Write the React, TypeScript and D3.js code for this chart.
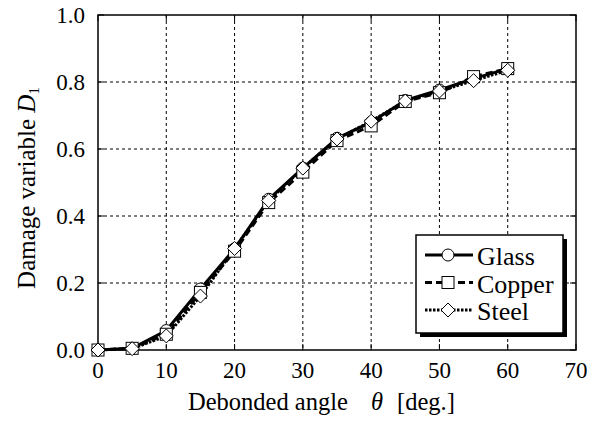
import React from "react";
import * as d3 from "d3";

const angles = [0, 5, 10, 15, 20, 25, 30, 35, 40, 45, 50, 55, 60];
const glass = [0, 0.005, 0.058, 0.182, 0.302, 0.45, 0.543, 0.632, 0.68, 0.745, 0.776, 0.81, 0.84];
const copper = [0, 0.005, 0.047, 0.172, 0.295, 0.44, 0.531, 0.625, 0.669, 0.742, 0.768, 0.816, 0.84];
const steel = [0, 0.004, 0.042, 0.161, 0.303, 0.446, 0.543, 0.63, 0.683, 0.743, 0.773, 0.804, 0.835];
const xTicks = [0, 10, 20, 30, 40, 50, 60, 70];
const yTicks = [0, 0.2, 0.4, 0.6, 0.8, 1.0];
const seriesNames = ["Glass", "Copper", "Steel"];

const W = 609;
const H = 423;
const L = 98, R = 576, T = 15, B = 350;
const FONT = "Liberation Serif";
const fs = (n: number): React.CSSProperties => ({ fontFamily: FONT, fontSize: n });

type Kind = "circle" | "square" | "diamond";

function Marker({ x, y, kind }: { x: number; y: number; kind: Kind }) {
  const s = 6;
  if (kind === "circle") return <circle cx={x} cy={y} r={s} fill="white" stroke="black" strokeWidth={1} />;
  if (kind === "square") return <rect x={x - s} y={y - s} width={2 * s} height={2 * s} fill="white" stroke="black" strokeWidth={1} />;
  return <path d={`M${x},${y - s - 1}L${x + s + 1},${y}L${x},${y + s + 1}L${x - s - 1},${y}Z`} fill="white" stroke="black" strokeWidth={1} />;
}

export default function App() {
  const x = d3.scaleLinear().domain([0, 70]).range([L, R]);
  const y = d3.scaleLinear().domain([0, 1]).range([B, T]);
  const line = d3.line<[number, number]>().x((d) => x(d[0])).y((d) => y(d[1]));
  const series: { name: string; vals: number[]; dash: string; kind: Kind; w: number }[] = [
    { name: seriesNames[0], vals: glass, dash: "", kind: "circle", w: 3 },
    { name: seriesNames[1], vals: copper, dash: "7,4", kind: "square", w: 3 },
    { name: seriesNames[2], vals: steel, dash: "2.5,1.5", kind: "diamond", w: 3 },
  ];
  const lx = 416, ly = 235, lw = 147, lh = 98;
  return (
    <svg width={W} height={H} style={{ position: "absolute", left: 0, top: 0, background: "white" }}>
      <rect width={W} height={H} fill="white" />
      {xTicks.slice(1, -1).map((t) => (
        <line key={"gx" + t} x1={x(t)} x2={x(t)} y1={T} y2={B} stroke="black" strokeWidth={1} strokeDasharray="3,3" />
      ))}
      {yTicks.slice(1, -1).map((t) => (
        <line key={"gy" + t} x1={L} x2={R} y1={y(t)} y2={y(t)} stroke="black" strokeWidth={1} strokeDasharray="3,3" />
      ))}
      {xTicks.map((t) => (
        <g key={"tx" + t}>
          <line x1={x(t)} x2={x(t)} y1={B} y2={B - 6} stroke="black" strokeWidth={1} />
          <line x1={x(t)} x2={x(t)} y1={T} y2={T + 6} stroke="black" strokeWidth={1} />
          <text x={x(t)} y={378} textAnchor="middle" style={fs(23)}>{t}</text>
        </g>
      ))}
      {yTicks.map((t) => (
        <g key={"ty" + t}>
          <line x1={L} x2={L + 6} y1={y(t)} y2={y(t)} stroke="black" strokeWidth={1} />
          <line x1={R} x2={R - 6} y1={y(t)} y2={y(t)} stroke="black" strokeWidth={1} />
          <text x={L - 13} y={y(t)} dy="0.35em" textAnchor="end" style={fs(23)}>{t.toFixed(1)}</text>
        </g>
      ))}
      <rect x={L} y={T} width={R - L} height={B - T} fill="none" stroke="black" strokeWidth={1.5} />
      {series.map((s) => (
        <path key={s.name} d={line(angles.map((a, i) => [a, s.vals[i]] as [number, number])) || ""} fill="none" stroke="black" strokeWidth={s.w} strokeDasharray={s.dash} />
      ))}
      {series.map((s) => (
        <g key={"m" + s.name}>
          {angles.map((a, i) => (
            <Marker key={i} x={x(a)} y={y(s.vals[i])} kind={s.kind} />
          ))}
        </g>
      ))}
      <rect x={lx + 4} y={ly + 4} width={lw} height={lh} fill="black" />
      <rect x={lx} y={ly} width={lw} height={lh} fill="white" stroke="black" strokeWidth={1.5} />
      {series.map((s, i) => {
        const yy = 255 + i * 27.5;
        return (
          <g key={"lg" + s.name}>
            <line x1={425} x2={473} y1={yy} y2={yy} stroke="black" strokeWidth={3} strokeDasharray={s.dash} />
            <Marker x={448} y={yy} kind={s.kind} />
            <text x={477} y={yy + 10} style={fs(26)}>{s.name}</text>
          </g>
        );
      })}
      <text x={188} y={410} style={fs(24.5)}>
        Debonded angle
        <tspan x={371} style={{ fontStyle: "italic" }}>θ</tspan>
        <tspan x={397}>[deg.]</tspan>
      </text>
      <text transform={`translate(35,${188}) rotate(-90)`} textAnchor="middle" style={fs(25)}>
        Damage variable <tspan style={{ fontStyle: "italic" }}>D</tspan><tspan style={{ fontSize: 15 }} dy={4}>1</tspan>
      </text>
    </svg>
  );
}
